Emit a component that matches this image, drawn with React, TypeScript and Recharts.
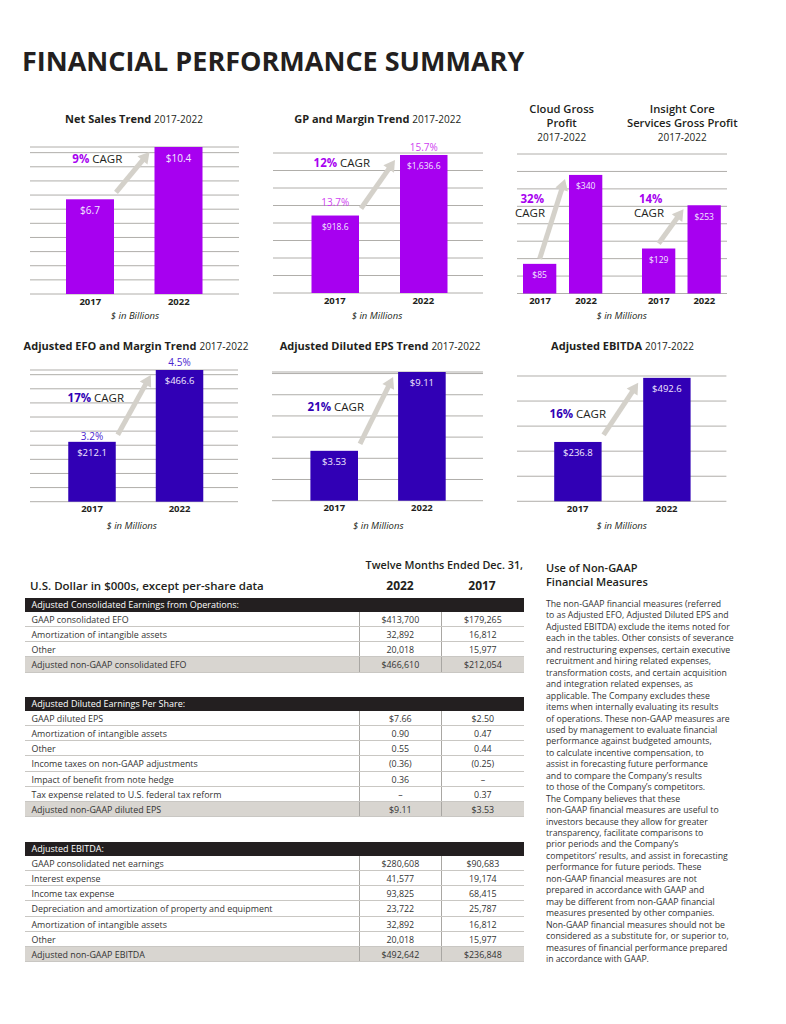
import React from 'react';
import { BarChart, Bar, XAxis, YAxis, CartesianGrid } from 'recharts';

const FONT = '"Open Sans", "Noto Sans", sans-serif';
const INK = '#231f20';
const PURPLE = '#a700f0';
const PURPLE_LIGHT = '#cf3ff0';
const INDIGO = '#3100b5';
const INDIGO_LIGHT = '#4a25d0';
const GRID = '#b0aeaa';
const ARROW = '#d4d1ca';

const years = ['2017', '2022'];

// values shown in the bars
const netSales = [6.7, 10.4];
const grossProfit = [918.6, 1636.6];
const gpMargin = [13.7, 15.7];
const cloudGrossProfit = [85, 340];
const insightGrossProfit = [129, 253];
const adjustedEfo = [212.1, 466.6];
const efoMargin = [3.2, 4.5];
const adjustedEps = [3.53, 9.11];
const adjustedEbitda = [236.8, 492.6];

// gridline ticks for each panel
const netSalesTicks = [0, 1, 2, 3, 4, 5, 6, 7, 8, 9, 10];
const gpTicks = [0, 207.5, 415, 622.5, 830, 1037.5, 1245, 1452.5, 1660];
const segmentTicks = [0, 50, 100, 150, 200, 250, 300, 350, 400];
const efoTicks = [0, 50, 100, 150, 200, 250, 300, 350, 400, 450];
const epsTicks = [0, 1.5, 3, 4.5, 6, 7.5, 9];
const ebitdaTicks = [0, 100, 200, 300, 400, 500];

// tables
const efoLabels = [
  'GAAP consolidated EFO',
  'Amortization of intangible assets',
  'Other',
  'Adjusted non-GAAP consolidated EFO',
];
const efo2022 = ['$413,700', '32,892', '20,018', '$466,610'];
const efo2017 = ['$179,265', '16,812', '15,977', '$212,054'];

const epsLabels = [
  'GAAP diluted EPS',
  'Amortization of intangible assets',
  'Other',
  'Income taxes on non-GAAP adjustments',
  'Impact of benefit from note hedge',
  'Tax expense related to U.S. federal tax reform',
  'Adjusted non-GAAP diluted EPS',
];
const eps2022 = ['$7.66', '0.90', '0.55', '(0.36)', '0.36', '–', '$9.11'];
const eps2017 = ['$2.50', '0.47', '0.44', '(0.25)', '–', '0.37', '$3.53'];

const ebitdaLabels = [
  'GAAP consolidated net earnings',
  'Interest expense',
  'Income tax expense',
  'Depreciation and amortization of property and equipment',
  'Amortization of intangible assets',
  'Other',
  'Adjusted non-GAAP EBITDA',
];
const ebitda2022 = ['$280,608', '41,577', '93,825', '23,722', '32,892', '20,018', '$492,642'];
const ebitda2017 = ['$90,683', '19,174', '68,415', '25,787', '16,812', '15,977', '$236,848'];

const paragraphLines = [
  'The non-GAAP financial measures (referred',
  'to as Adjusted EFO, Adjusted Diluted EPS and',
  'Adjusted EBITDA) exclude the items noted for',
  'each in the tables. Other consists of severance',
  'and restructuring expenses, certain executive',
  'recruitment and hiring related expenses,',
  'transformation costs, and certain acquisition',
  'and integration related expenses, as',
  'applicable. The Company excludes these',
  'items when internally evaluating its results',
  'of operations. These non-GAAP measures are',
  'used by management to evaluate financial',
  'performance against budgeted amounts,',
  'to calculate incentive compensation, to',
  'assist in forecasting future performance',
  'and to compare the Company\u2019s results',
  'to those of the Company\u2019s competitors.',
  'The Company believes that these',
  'non-GAAP financial measures are useful to',
  'investors because they allow for greater',
  'transparency, facilitate comparisons to',
  'prior periods and the Company\u2019s',
  'competitors\u2019 results, and assist in forecasting',
  'performance for future periods. These',
  'non-GAAP financial measures are not',
  'prepared in accordance with GAAP and',
  'may be different from non-GAAP financial',
  'measures presented by other companies.',
  'Non-GAAP financial measures should not be',
  'considered as a substitute for, or superior to,',
  'measures of financial performance prepared',
  'in accordance with GAAP.',
];

const money = (digits: number) => (v: number) =>
  '$' + v.toLocaleString('en-US', { minimumFractionDigits: digits, maximumFractionDigits: digits });

// absolutely placed text, positioned by its centre (or left / right edge)
function T({
  x,
  y,
  size,
  weight = 400,
  color = INK,
  anchor = 'middle',
  italic = false,
  children,
}: {
  x: number;
  y: number;
  size: number;
  weight?: number;
  color?: string;
  anchor?: 'start' | 'middle' | 'end';
  italic?: boolean;
  children: React.ReactNode;
}) {
  const tx = anchor === 'middle' ? '-50%' : anchor === 'end' ? '-100%' : '0';
  return (
    <div
      style={{
        position: 'absolute',
        left: x,
        top: y,
        transform: `translate(${tx}, -50%)`,
        fontSize: size,
        fontWeight: weight,
        fontStyle: italic ? 'italic' : 'normal',
        color,
        lineHeight: 1,
        whiteSpace: 'nowrap',
        fontFamily: FONT,
      }}
    >
      {children}
    </div>
  );
}

const TOP_GAP = 24;
const AXIS_H = 22;

interface TrendChartProps {
  left: number;
  top: number;
  width: number;
  plotHeight: number;
  values: number[];
  pcts?: number[];
  color: string;
  pctColor?: string;
  pctGaps?: number[];
  domain: [number, number];
  ticks: number[];
  pad: [number, number];
  barSize: number;
  fmt: (v: number) => string;
  valueSize: number;
  arrowFrom: 'edge' | 'center';
}

function TrendChart(p: TrendChartProps) {
  const data = years.map((year, i) => ({
    year,
    value: p.values[i],
    pct: p.pcts ? p.pcts[i] : undefined,
  }));
  const step = (p.width - p.pad[0] - p.pad[1]) / data.length;

  const renderBar = (s: any) => {
    const { x, y, width, height, index, payload } = s;
    let arrow = null;
    if (index === 1) {
      const ppu = height / payload.value;
      const top0 = y + height - data[0].value * ppu;
      const sx = p.arrowFrom === 'edge' ? x - step + width + 2 : x - step + width / 2;
      const sy = p.arrowFrom === 'edge' ? top0 - 7 : top0 - 5;
      const ex = x - (p.arrowFrom === 'edge' ? 5 : 4);
      const ey = y + (p.arrowFrom === 'edge' ? 5 : 4);
      const len = Math.hypot(ex - sx, ey - sy);
      const dx = (ex - sx) / len;
      const dy = (ey - sy) / len;
      const hx = ex - dx * 11;
      const hy = ey - dy * 11;
      arrow = (
        <g>
          <line x1={sx} y1={sy} x2={ex - dx * 9} y2={ey - dy * 9} stroke={ARROW} strokeWidth={5} />
          <polygon
            points={`${ex},${ey} ${hx - dy * 6.5},${hy + dx * 6.5} ${hx + dy * 6.5},${hy - dx * 6.5}`}
            fill={ARROW}
          />
        </g>
      );
    }
    const gap = p.pctGaps ? p.pctGaps[index] : 10;
    return (
      <g>
        <rect x={x} y={y} width={width} height={height} fill={p.color} />
        <text
          x={x + width / 2}
          y={y + 11}
          textAnchor="middle"
          dominantBaseline="central"
          fill="#f2e9ff"
          fontSize={p.valueSize}
          fontFamily={FONT}
        >
          {p.fmt(payload.value)}
        </text>
        {payload.pct !== undefined && (
          <text
            x={x + width / 2}
            y={y - gap}
            textAnchor="middle"
            dominantBaseline="central"
            fill={p.pctColor}
            fontSize={10}
            fontFamily={FONT}
          >
            {payload.pct.toFixed(1)}%
          </text>
        )}
        {arrow}
      </g>
    );
  };

  return (
    <div style={{ position: 'absolute', left: p.left, top: p.top - TOP_GAP }}>
      <BarChart
        width={p.width}
        height={TOP_GAP + p.plotHeight + AXIS_H}
        data={data}
        margin={{ top: TOP_GAP, right: 0, bottom: 0, left: 0 }}
      >
        <CartesianGrid vertical={false} stroke={GRID} strokeWidth={1} />
        <XAxis
          dataKey="year"
          axisLine={false}
          tickLine={false}
          tickSize={0}
          tickMargin={4}
          height={AXIS_H}
          interval={0}
          padding={{ left: p.pad[0], right: p.pad[1] }}
          tick={{ fontSize: 9.5, fontWeight: 700, fill: INK, fontFamily: FONT }}
        />
        <YAxis hide type="number" domain={p.domain} ticks={p.ticks} interval={0} />
        <Bar
          dataKey="value"
          fill={p.color}
          barSize={p.barSize}
          isAnimationActive={false}
          shape={renderBar}
        />
      </BarChart>
    </div>
  );
}

function Cagr({ x, y, pct, color }: { x: number; y: number; pct: string; color: string }) {
  return (
    <T x={x} y={y} size={11.5}>
      <span style={{ fontWeight: 700, color }}>{pct}</span> CAGR
    </T>
  );
}

function Title({ x, y, bold, rest }: { x: number; y: number; bold: string; rest: string }) {
  return (
    <T x={x} y={y} size={11}>
      <span style={{ fontWeight: 700 }}>{bold}</span>{' '}
      <span style={{ fontSize: 10 }}>{rest}</span>
    </T>
  );
}

function DataTable({
  top,
  title,
  labels,
  col2022,
  col2017,
}: {
  top: number;
  title: string;
  labels: string[];
  col2022: string[];
  col2017: string[];
}) {
  return (
    <div style={{ position: 'absolute', left: 25, top, width: 499, fontFamily: FONT }}>
      <div
        style={{
          height: 13.5,
          background: INK,
          color: '#fff',
          fontSize: 9,
          lineHeight: '13.5px',
          paddingLeft: 6.5,
        }}
      >
        {title}
      </div>
      {labels.map((label, i) => {
        const last = i === labels.length - 1;
        return (
          <div
            key={label}
            style={{
              display: 'flex',
              height: 15.2,
              boxSizing: 'border-box',
              borderBottom: '1px solid #c9c7c3',
              background: last ? '#d8d5d0' : '#fff',
              fontSize: 8.9,
              lineHeight: '15px',
              color: '#333',
            }}
          >
            <div style={{ width: 334, paddingLeft: 6.5, boxSizing: 'border-box' }}>{label}</div>
            <div
              style={{
                width: 81.7,
                textAlign: 'center',
                borderLeft: '1px solid #a9a7a3',
                boxSizing: 'border-box',
              }}
            >
              {col2022[i]}
            </div>
            <div style={{ flex: 1, textAlign: 'center', borderLeft: '1px solid #a9a7a3' }}>
              {col2017[i]}
            </div>
          </div>
        );
      })}
    </div>
  );
}

export default function App() {
  return (
    <div
      style={{
        position: 'absolute',
        left: 0,
        top: 0,
        width: 786,
        height: 1024,
        background: '#fff',
        fontFamily: FONT,
        color: INK,
        overflow: 'hidden',
      }}
    >
      <T x={22} y={60} size={27} weight={700} anchor="start">
        FINANCIAL PERFORMANCE SUMMARY
      </T>

      {/* top row */}
      <Title x={134} y={118.3} bold="Net Sales Trend" rest="2017-2022" />
      <Title x={377.7} y={118} bold="GP and Margin Trend" rest="2017-2022" />
      <T x={561.7} y={109} size={11.2} weight={600}>Cloud Gross</T>
      <T x={561.7} y={122.7} size={11.2} weight={600}>Profit</T>
      <T x={561.7} y={136.7} size={10}>2017-2022</T>
      <T x={682.3} y={109} size={11.2} weight={600}>Insight Core</T>
      <T x={682.3} y={122.7} size={11.2} weight={600}>Services Gross Profit</T>
      <T x={682.3} y={136.7} size={10}>2017-2022</T>

      <TrendChart
        left={30}
        top={146.7}
        width={209}
        plotHeight={147}
        values={netSales}
        color={PURPLE}
        domain={[0, 10.4]}
        ticks={netSalesTicks}
        pad={[16, 16]}
        barSize={48}
        fmt={money(1)}
        valueSize={10}
        arrowFrom="edge"
      />
      <TrendChart
        left={272.7}
        top={153}
        width={210}
        plotHeight={140}
        values={grossProfit}
        pcts={gpMargin}
        pctColor={PURPLE_LIGHT}
        pctGaps={[14, 8]}
        color={PURPLE}
        domain={[0, 1660]}
        ticks={gpTicks}
        pad={[17.5, 15.5]}
        barSize={47.5}
        fmt={money(1)}
        valueSize={8.5}
        arrowFrom="edge"
      />
      <TrendChart
        left={516.7}
        top={153.5}
        width={105}
        plotHeight={139.5}
        values={cloudGrossProfit}
        color={PURPLE}
        domain={[0, 400]}
        ticks={segmentTicks}
        pad={[0, 13]}
        barSize={33.3}
        fmt={money(0)}
        valueSize={8.5}
        arrowFrom="center"
      />
      <TrendChart
        left={621.7}
        top={153.5}
        width={105}
        plotHeight={139.5}
        values={insightGrossProfit}
        color={PURPLE}
        domain={[0, 400]}
        ticks={segmentTicks}
        pad={[14, 0]}
        barSize={33.3}
        fmt={money(0)}
        valueSize={8.5}
        arrowFrom="center"
      />

      <Cagr x={97.3} y={159.3} pct="9%" color={PURPLE} />
      <Cagr x={341.8} y={162.7} pct="12%" color={PURPLE} />
      <T x={532.3} y={199} size={11.5} weight={700} color={PURPLE}>32%</T>
      <T x={530} y={213.3} size={11.5}>CAGR</T>
      <T x={650.7} y={199} size={11.5} weight={700} color={PURPLE}>14%</T>
      <T x={649} y={213.3} size={11.5}>CAGR</T>

      <T x={135} y={316} size={9.5} italic>$ in Billions</T>
      <T x={377} y={316} size={9.5} italic>$ in Millions</T>
      <T x={621.7} y={316} size={9.5} italic>$ in Millions</T>

      {/* second row */}
      <Title x={136} y={345} bold="Adjusted EFO and Margin Trend" rest="2017-2022" />
      <Title x={380} y={345} bold="Adjusted Diluted EPS Trend" rest="2017-2022" />
      <Title x={622.5} y={345} bold="Adjusted EBITDA" rest="2017-2022" />

      <TrendChart
        left={30}
        top={370}
        width={208.3}
        plotHeight={131.7}
        values={adjustedEfo}
        pcts={efoMargin}
        pctColor={INDIGO_LIGHT}
        pctGaps={[6, 7.5]}
        color={INDIGO}
        domain={[0, 466.6]}
        ticks={efoTicks}
        pad={[18.25, 15]}
        barSize={47.5}
        fmt={money(1)}
        valueSize={9.5}
        arrowFrom="edge"
      />
      <TrendChart
        left={272.3}
        top={372.3}
        width={211}
        plotHeight={128.7}
        values={adjustedEps}
        color={INDIGO}
        domain={[0, 9.11]}
        ticks={epsTicks}
        pad={[18.4, 17.2]}
        barSize={47.6}
        fmt={money(2)}
        valueSize={9.5}
        arrowFrom="edge"
      />
      <TrendChart
        left={517.3}
        top={376}
        width={209.4}
        plotHeight={125.3}
        values={adjustedEbitda}
        color={INDIGO}
        domain={[0, 500]}
        ticks={ebitdaTicks}
        pad={[16.2, 15.2]}
        barSize={47.4}
        fmt={money(1)}
        valueSize={9.5}
        arrowFrom="edge"
      />

      <Cagr x={95.8} y={397.7} pct="17%" color={INDIGO} />
      <Cagr x={335.8} y={407.3} pct="21%" color={INDIGO} />
      <Cagr x={577.8} y={414} pct="16%" color={INDIGO} />

      <T x={131.7} y={525.7} size={9.5} italic>$ in Millions</T>
      <T x={378.3} y={525.7} size={9.5} italic>$ in Millions</T>
      <T x={621.7} y={525.7} size={9.5} italic>$ in Millions</T>

      {/* tables */}
      <T x={523} y={565} size={10.8} weight={600} anchor="end">Twelve Months Ended Dec. 31,</T>
      <T x={30} y={585.7} size={11.5} weight={600} anchor="start">
        U.S. Dollar in $000s, except per-share data
      </T>
      <T x={400} y={585.7} size={12} weight={700}>2022</T>
      <T x={482} y={585.7} size={12} weight={700}>2017</T>

      <DataTable
        top={598.3}
        title="Adjusted Consolidated Earnings from Operations:"
        labels={efoLabels}
        col2022={efo2022}
        col2017={efo2017}
      />
      <DataTable
        top={697.3}
        title="Adjusted Diluted Earnings Per Share:"
        labels={epsLabels}
        col2022={eps2022}
        col2017={eps2017}
      />
      <DataTable
        top={842.3}
        title="Adjusted EBITDA:"
        labels={ebitdaLabels}
        col2022={ebitda2022}
        col2017={ebitda2017}
      />

      {/* notes column */}
      <T x={546} y={567} size={11} weight={600} anchor="start">Use of Non-GAAP</T>
      <T x={546} y={581} size={11} weight={600} anchor="start">Financial Measures</T>
      {paragraphLines.map((line, i) => (
        <T key={i} x={546} y={604 + i * 11.45} size={8.7} color="#333" anchor="start">
          {line}
        </T>
      ))}
    </div>
  );
}
